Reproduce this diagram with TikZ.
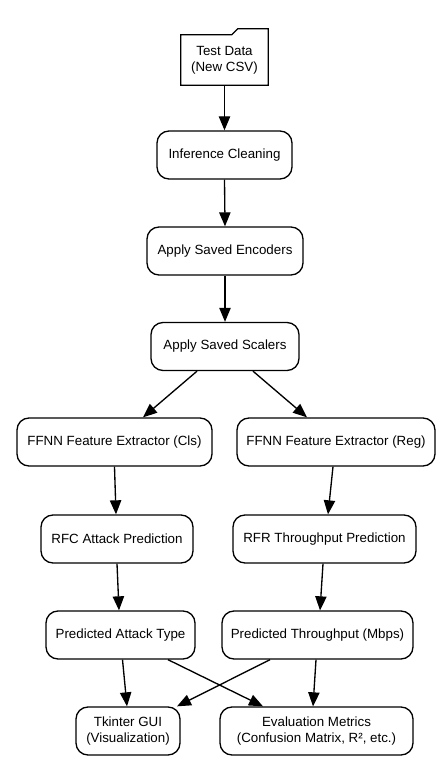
\documentclass[tikz,border=0pt]{standalone}
\usepackage{fontspec}
\setmainfont{Liberation Sans}
\usetikzlibrary{arrows.meta,calc}
\begin{document}
\begin{tikzpicture}[x=0.75pt,y=-0.75pt,
  box/.style={draw, rounded corners=9pt, line width=1pt, minimum height=36pt,
    inner sep=0pt, align=center, font=\fontsize{10}{12}\selectfont},
  folderbox/.style={inner sep=0pt, align=center, minimum width=65.25pt,
    minimum height=37.5pt, font=\fontsize{10}{12}\selectfont},
  arr/.style={-{Triangle[length=10.5pt,width=8.5pt]}, line width=1pt}]
\useasboundingbox[fill=white] (0,0) rectangle (443,781);

\node[folderbox] (test) at (224.5,60) {Test Data\\(New CSV)};
\draw[line width=1pt] (test.south west) -- (test.north west) -- ++(51,0) -- ++(6,-6)
  -- ($(test.north east)+(0,-6)$) -- (test.south east) -- cycle;

\node[box, minimum width=101.25pt] (clean) at (224.5,155) {Inference Cleaning};
\node[box, minimum width=117pt] (enc) at (225,251) {Apply Saved Encoders};
\node[box, minimum width=111pt] (scal) at (225,346.5) {Apply Saved Scalers};
\node[box, minimum width=146.25pt] (ffcls) at (114.5,442) {FFNN Feature Extractor (Cls)};
\node[box, minimum width=148.5pt] (ffreg) at (336,442) {FFNN Feature Extractor (Reg)};
\node[box, minimum width=114pt] (rfc) at (117,539) {RFC Attack Prediction};
\node[box, minimum width=137.25pt] (rfr) at (324.5,539) {RFR Throughput Prediction};
\node[box, minimum width=111.75pt] (pa) at (120.5,635) {Predicted Attack Type};
\node[box, minimum width=143.25pt] (pt) at (317.5,635) {Predicted Throughput (Mbps)};
\node[box, minimum width=78pt] (tk) at (128,731) {Tkinter GUI\\(Visualization)};
\node[box, minimum width=144.75pt] (eval) at (316.5,731) {Evaluation Metrics\\(Confusion Matrix, R², etc.)};

\draw[arr] (test.south) -- (clean.north);
\draw[arr] (clean.south) -- (enc.north);
\draw[arr] (enc.south) -- (scal.north);
\draw[arr] ($(scal.south)+(-28,0)$) -- ($(ffcls.north)+(28.5,0)$);
\draw[arr] ($(scal.south)+(28,0)$) -- ($(ffreg.north)+(-29,0)$);
\draw[arr] (ffcls.south) -- ($(rfc.north)+(-1,0)$);
\draw[arr] ($(ffreg.south)+(-3,0)$) -- ($(rfr.north)+(3.5,0)$);
\draw[arr] (rfc.south) -- ($(pa.north)+(-1.5,0)$);
\draw[arr] ($(rfr.south)+(-1.5,0)$) -- ($(pt.north)+(2.5,0)$);
\draw[arr] ($(pa.south)+(2,0)$) -- ($(tk.north)+(-1,0)$);
\draw[arr] ($(pa.south)+(47.5,0)$) -- ($(eval.north)+(-53.5,0)$);
\draw[arr] ($(pt.south)+(-47.5,0)$) -- ($(tk.north)+(49,0)$);
\draw[arr] ($(pt.south)+(-1.5,0)$) -- ($(eval.north)+(-3.5,0)$);
\end{tikzpicture}
\end{document}
